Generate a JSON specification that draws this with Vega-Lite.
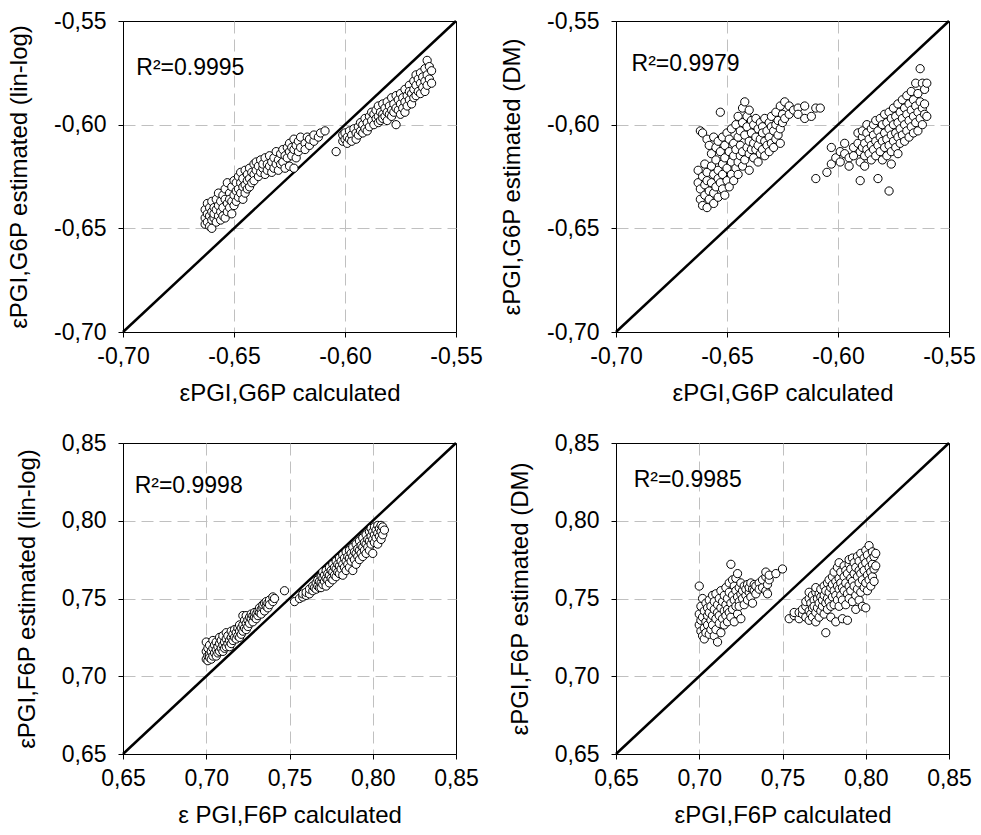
{
"$schema":"https://vega.github.io/schema/vega-lite/v6.json",
"background":"white",
"padding":{"left":7,"top":9,"right":3,"bottom":5},
"config":{
 "font":"Liberation Sans",
 "view":{"stroke":"black","strokeWidth":1},
 "axis":{"domainColor":"black","tickColor":"black","tickSize":5,"labelFontSize":23,"labelColor":"black","labelFont":"Liberation Sans","titleFont":"Liberation Sans","titleFontSize":24,"titleFontWeight":"normal","titleColor":"black","gridColor":"#c0c0c0","gridDash":[12,6],"gridWidth":1,"labelFlush":false,"labelOverlap":false,"gridOpacity":{"condition":{"test":"datum.index == 0 || datum.index == 1","value":0},"value":1}},
 "axisX":{"labelPadding":8,"titlePadding":13},
 "axisY":{"labelPadding":12,"titlePadding":22}
},
"datasets":{
 "dg1":[{"x":-0.70,"y":-0.70},{"x":-0.55,"y":-0.55}],
 "dg2":[{"x":0.65,"y":0.65},{"x":0.85,"y":0.85}],
 "tl":[
{"x":-0.663,"y":-0.641},{"x":-0.663,"y":-0.645},{"x":-0.663,"y":-0.648},{"x":-0.662,"y":-0.643},{"x":-0.662,"y":-0.647},{"x":-0.662,"y":-0.638},{"x":-0.661,"y":-0.644},{"x":-0.661,"y":-0.649},{"x":-0.661,"y":-0.640},{"x":-0.660,"y":-0.637},{"x":-0.660,"y":-0.642},{"x":-0.660,"y":-0.646},{"x":-0.660,"y":-0.650},{"x":-0.659,"y":-0.640},{"x":-0.659,"y":-0.645},{"x":-0.659,"y":-0.643},{"x":-0.658,"y":-0.636},{"x":-0.658,"y":-0.641},{"x":-0.658,"y":-0.647},{"x":-0.657,"y":-0.639},{"x":-0.657,"y":-0.644},{"x":-0.657,"y":-0.633},{"x":-0.656,"y":-0.637},{"x":-0.656,"y":-0.642},{"x":-0.656,"y":-0.646},{"x":-0.655,"y":-0.634},{"x":-0.655,"y":-0.640},{"x":-0.655,"y":-0.644},{"x":-0.654,"y":-0.636},{"x":-0.654,"y":-0.631},{"x":-0.654,"y":-0.645},{"x":-0.653,"y":-0.638},{"x":-0.653,"y":-0.642},{"x":-0.653,"y":-0.628},{"x":-0.652,"y":-0.633},{"x":-0.652,"y":-0.640},{"x":-0.652,"y":-0.636},{"x":-0.651,"y":-0.630},{"x":-0.651,"y":-0.637},{"x":-0.651,"y":-0.643},{"x":-0.650,"y":-0.627},{"x":-0.650,"y":-0.634},{"x":-0.650,"y":-0.639},{"x":-0.649,"y":-0.632},{"x":-0.649,"y":-0.628},{"x":-0.649,"y":-0.637},{"x":-0.648,"y":-0.625},{"x":-0.648,"y":-0.631},{"x":-0.648,"y":-0.635},{"x":-0.647,"y":-0.628},{"x":-0.647,"y":-0.633},{"x":-0.647,"y":-0.623},{"x":-0.646,"y":-0.626},{"x":-0.646,"y":-0.630},{"x":-0.646,"y":-0.636},{"x":-0.645,"y":-0.622},{"x":-0.645,"y":-0.629},{"x":-0.645,"y":-0.633},{"x":-0.644,"y":-0.624},{"x":-0.644,"y":-0.627},{"x":-0.644,"y":-0.631},{"x":-0.643,"y":-0.621},{"x":-0.643,"y":-0.626},{"x":-0.643,"y":-0.630},{"x":-0.642,"y":-0.623},{"x":-0.642,"y":-0.628},{"x":-0.641,"y":-0.619},{"x":-0.641,"y":-0.624},{"x":-0.641,"y":-0.627},{"x":-0.640,"y":-0.622},{"x":-0.640,"y":-0.618},{"x":-0.639,"y":-0.620},{"x":-0.639,"y":-0.625},{"x":-0.638,"y":-0.617},{"x":-0.638,"y":-0.623},{"x":-0.637,"y":-0.621},{"x":-0.637,"y":-0.619},{"x":-0.636,"y":-0.616},{"x":-0.636,"y":-0.624},{"x":-0.635,"y":-0.619},{"x":-0.635,"y":-0.622},{"x":-0.634,"y":-0.615},{"x":-0.634,"y":-0.620},{"x":-0.633,"y":-0.618},{"x":-0.633,"y":-0.623},{"x":-0.632,"y":-0.616},{"x":-0.632,"y":-0.621},{"x":-0.631,"y":-0.613},{"x":-0.631,"y":-0.619},{"x":-0.630,"y":-0.617},{"x":-0.630,"y":-0.622},{"x":-0.629,"y":-0.614},{"x":-0.629,"y":-0.619},{"x":-0.628,"y":-0.612},{"x":-0.628,"y":-0.618},{"x":-0.627,"y":-0.615},{"x":-0.627,"y":-0.621},{"x":-0.626,"y":-0.611},{"x":-0.626,"y":-0.616},{"x":-0.625,"y":-0.613},{"x":-0.625,"y":-0.609},{"x":-0.625,"y":-0.620},{"x":-0.624,"y":-0.615},{"x":-0.624,"y":-0.611},{"x":-0.623,"y":-0.607},{"x":-0.623,"y":-0.612},{"x":-0.623,"y":-0.621},{"x":-0.622,"y":-0.610},{"x":-0.622,"y":-0.616},{"x":-0.621,"y":-0.608},{"x":-0.621,"y":-0.613},{"x":-0.620,"y":-0.611},{"x":-0.620,"y":-0.606},{"x":-0.618,"y":-0.609},{"x":-0.618,"y":-0.612},{"x":-0.617,"y":-0.606},{"x":-0.616,"y":-0.610},{"x":-0.616,"y":-0.607},{"x":-0.614,"y":-0.608},{"x":-0.614,"y":-0.605},{"x":-0.612,"y":-0.606},{"x":-0.611,"y":-0.604},{"x":-0.609,"y":-0.603},
{"x":-0.604,"y":-0.613},{"x":-0.601,"y":-0.608},{"x":-0.601,"y":-0.605},{"x":-0.600,"y":-0.607},{"x":-0.600,"y":-0.604},{"x":-0.599,"y":-0.606},{"x":-0.599,"y":-0.609},{"x":-0.598,"y":-0.603},{"x":-0.598,"y":-0.607},{"x":-0.597,"y":-0.605},{"x":-0.597,"y":-0.608},{"x":-0.596,"y":-0.602},{"x":-0.595,"y":-0.604},{"x":-0.595,"y":-0.607},{"x":-0.594,"y":-0.601},{"x":-0.594,"y":-0.605},{"x":-0.593,"y":-0.603},{"x":-0.593,"y":-0.599},{"x":-0.592,"y":-0.600},{"x":-0.592,"y":-0.604},{"x":-0.591,"y":-0.597},{"x":-0.591,"y":-0.602},{"x":-0.590,"y":-0.599},{"x":-0.590,"y":-0.603},{"x":-0.589,"y":-0.596},{"x":-0.589,"y":-0.601},{"x":-0.588,"y":-0.598},{"x":-0.588,"y":-0.594},{"x":-0.587,"y":-0.600},{"x":-0.587,"y":-0.595},{"x":-0.586,"y":-0.593},{"x":-0.586,"y":-0.597},{"x":-0.585,"y":-0.596},{"x":-0.585,"y":-0.599},{"x":-0.585,"y":-0.591},{"x":-0.584,"y":-0.594},{"x":-0.584,"y":-0.598},{"x":-0.583,"y":-0.590},{"x":-0.583,"y":-0.595},{"x":-0.583,"y":-0.597},{"x":-0.582,"y":-0.592},{"x":-0.582,"y":-0.596},{"x":-0.581,"y":-0.589},{"x":-0.581,"y":-0.594},{"x":-0.581,"y":-0.598},{"x":-0.580,"y":-0.591},{"x":-0.580,"y":-0.595},{"x":-0.579,"y":-0.587},{"x":-0.579,"y":-0.593},{"x":-0.579,"y":-0.596},{"x":-0.578,"y":-0.590},{"x":-0.578,"y":-0.594},{"x":-0.577,"y":-0.586},{"x":-0.577,"y":-0.592},{"x":-0.577,"y":-0.600},{"x":-0.576,"y":-0.588},{"x":-0.576,"y":-0.593},{"x":-0.575,"y":-0.585},{"x":-0.575,"y":-0.590},{"x":-0.575,"y":-0.595},{"x":-0.574,"y":-0.587},{"x":-0.574,"y":-0.592},{"x":-0.573,"y":-0.583},{"x":-0.573,"y":-0.589},{"x":-0.573,"y":-0.594},{"x":-0.572,"y":-0.586},{"x":-0.572,"y":-0.591},{"x":-0.571,"y":-0.581},{"x":-0.571,"y":-0.588},{"x":-0.571,"y":-0.584},{"x":-0.570,"y":-0.585},{"x":-0.570,"y":-0.590},{"x":-0.569,"y":-0.579},{"x":-0.569,"y":-0.583},{"x":-0.569,"y":-0.587},{"x":-0.568,"y":-0.576},{"x":-0.568,"y":-0.581},{"x":-0.568,"y":-0.586},{"x":-0.567,"y":-0.578},{"x":-0.567,"y":-0.584},{"x":-0.566,"y":-0.575},{"x":-0.566,"y":-0.580},{"x":-0.566,"y":-0.585},{"x":-0.565,"y":-0.577},{"x":-0.565,"y":-0.582},{"x":-0.564,"y":-0.573},{"x":-0.564,"y":-0.579},{"x":-0.564,"y":-0.584},{"x":-0.563,"y":-0.569},{"x":-0.563,"y":-0.576},{"x":-0.563,"y":-0.581},{"x":-0.562,"y":-0.572},{"x":-0.562,"y":-0.578},{"x":-0.561,"y":-0.574},{"x":-0.561,"y":-0.580}
 ],
 "tr":[
{"x":-0.663,"y":-0.622},{"x":-0.663,"y":-0.628},{"x":-0.662,"y":-0.603},{"x":-0.662,"y":-0.631},{"x":-0.662,"y":-0.636},{"x":-0.661,"y":-0.625},{"x":-0.661,"y":-0.639},{"x":-0.661,"y":-0.604},{"x":-0.660,"y":-0.619},{"x":-0.660,"y":-0.629},{"x":-0.660,"y":-0.634},{"x":-0.659,"y":-0.607},{"x":-0.659,"y":-0.623},{"x":-0.659,"y":-0.640},{"x":-0.659,"y":-0.627},{"x":-0.658,"y":-0.610},{"x":-0.658,"y":-0.632},{"x":-0.658,"y":-0.636},{"x":-0.657,"y":-0.614},{"x":-0.657,"y":-0.620},{"x":-0.657,"y":-0.628},{"x":-0.656,"y":-0.606},{"x":-0.656,"y":-0.624},{"x":-0.656,"y":-0.633},{"x":-0.656,"y":-0.638},{"x":-0.655,"y":-0.611},{"x":-0.655,"y":-0.617},{"x":-0.655,"y":-0.630},{"x":-0.654,"y":-0.608},{"x":-0.654,"y":-0.622},{"x":-0.654,"y":-0.635},{"x":-0.654,"y":-0.626},{"x":-0.653,"y":-0.594},{"x":-0.653,"y":-0.613},{"x":-0.653,"y":-0.628},{"x":-0.652,"y":-0.606},{"x":-0.652,"y":-0.619},{"x":-0.652,"y":-0.631},{"x":-0.652,"y":-0.624},{"x":-0.651,"y":-0.610},{"x":-0.651,"y":-0.616},{"x":-0.651,"y":-0.634},{"x":-0.650,"y":-0.604},{"x":-0.650,"y":-0.621},{"x":-0.650,"y":-0.627},{"x":-0.649,"y":-0.607},{"x":-0.649,"y":-0.613},{"x":-0.649,"y":-0.630},{"x":-0.648,"y":-0.602},{"x":-0.648,"y":-0.618},{"x":-0.648,"y":-0.624},{"x":-0.647,"y":-0.609},{"x":-0.647,"y":-0.615},{"x":-0.647,"y":-0.627},{"x":-0.646,"y":-0.600},{"x":-0.646,"y":-0.612},{"x":-0.646,"y":-0.621},{"x":-0.645,"y":-0.596},{"x":-0.645,"y":-0.606},{"x":-0.645,"y":-0.618},{"x":-0.645,"y":-0.624},{"x":-0.644,"y":-0.603},{"x":-0.644,"y":-0.610},{"x":-0.644,"y":-0.615},{"x":-0.643,"y":-0.592},{"x":-0.643,"y":-0.599},{"x":-0.643,"y":-0.613},{"x":-0.643,"y":-0.620},{"x":-0.642,"y":-0.589},{"x":-0.642,"y":-0.605},{"x":-0.642,"y":-0.617},{"x":-0.641,"y":-0.596},{"x":-0.641,"y":-0.601},{"x":-0.641,"y":-0.611},{"x":-0.640,"y":-0.593},{"x":-0.640,"y":-0.608},{"x":-0.640,"y":-0.614},{"x":-0.640,"y":-0.622},{"x":-0.639,"y":-0.598},{"x":-0.639,"y":-0.604},{"x":-0.639,"y":-0.612},{"x":-0.638,"y":-0.600},{"x":-0.638,"y":-0.609},{"x":-0.638,"y":-0.616},{"x":-0.637,"y":-0.597},{"x":-0.637,"y":-0.606},{"x":-0.637,"y":-0.612},{"x":-0.636,"y":-0.602},{"x":-0.636,"y":-0.610},{"x":-0.636,"y":-0.618},{"x":-0.635,"y":-0.599},{"x":-0.635,"y":-0.607},{"x":-0.635,"y":-0.614},{"x":-0.634,"y":-0.601},{"x":-0.634,"y":-0.604},{"x":-0.634,"y":-0.612},{"x":-0.633,"y":-0.597},{"x":-0.633,"y":-0.608},{"x":-0.633,"y":-0.615},{"x":-0.632,"y":-0.603},{"x":-0.632,"y":-0.610},{"x":-0.631,"y":-0.599},{"x":-0.631,"y":-0.606},{"x":-0.631,"y":-0.613},{"x":-0.630,"y":-0.596},{"x":-0.630,"y":-0.601},{"x":-0.630,"y":-0.609},{"x":-0.629,"y":-0.603},{"x":-0.629,"y":-0.611},{"x":-0.628,"y":-0.594},{"x":-0.628,"y":-0.600},{"x":-0.628,"y":-0.607},{"x":-0.627,"y":-0.598},{"x":-0.627,"y":-0.605},{"x":-0.626,"y":-0.591},{"x":-0.626,"y":-0.602},{"x":-0.626,"y":-0.609},{"x":-0.625,"y":-0.595},{"x":-0.625,"y":-0.599},{"x":-0.624,"y":-0.589},{"x":-0.624,"y":-0.597},{"x":-0.622,"y":-0.591},{"x":-0.622,"y":-0.595},{"x":-0.620,"y":-0.593},{"x":-0.618,"y":-0.592},{"x":-0.618,"y":-0.595},{"x":-0.615,"y":-0.591},{"x":-0.615,"y":-0.597},{"x":-0.612,"y":-0.596},{"x":-0.610,"y":-0.592},{"x":-0.608,"y":-0.592},
{"x":-0.610,"y":-0.626},{"x":-0.605,"y":-0.623},{"x":-0.603,"y":-0.611},{"x":-0.603,"y":-0.619},{"x":-0.601,"y":-0.616},{"x":-0.599,"y":-0.613},{"x":-0.599,"y":-0.618},{"x":-0.597,"y":-0.614},{"x":-0.597,"y":-0.609},{"x":-0.595,"y":-0.616},{"x":-0.595,"y":-0.620},{"x":-0.593,"y":-0.611},{"x":-0.593,"y":-0.615},{"x":-0.591,"y":-0.604},{"x":-0.591,"y":-0.609},{"x":-0.590,"y":-0.627},{"x":-0.590,"y":-0.613},{"x":-0.590,"y":-0.618},{"x":-0.589,"y":-0.606},{"x":-0.589,"y":-0.611},{"x":-0.589,"y":-0.603},{"x":-0.588,"y":-0.609},{"x":-0.588,"y":-0.615},{"x":-0.588,"y":-0.620},{"x":-0.587,"y":-0.604},{"x":-0.587,"y":-0.600},{"x":-0.587,"y":-0.612},{"x":-0.586,"y":-0.607},{"x":-0.586,"y":-0.614},{"x":-0.585,"y":-0.602},{"x":-0.585,"y":-0.610},{"x":-0.585,"y":-0.617},{"x":-0.584,"y":-0.600},{"x":-0.584,"y":-0.605},{"x":-0.584,"y":-0.612},{"x":-0.583,"y":-0.598},{"x":-0.583,"y":-0.608},{"x":-0.583,"y":-0.615},{"x":-0.582,"y":-0.603},{"x":-0.582,"y":-0.610},{"x":-0.582,"y":-0.626},{"x":-0.581,"y":-0.597},{"x":-0.581,"y":-0.606},{"x":-0.581,"y":-0.613},{"x":-0.580,"y":-0.600},{"x":-0.580,"y":-0.608},{"x":-0.580,"y":-0.617},{"x":-0.579,"y":-0.595},{"x":-0.579,"y":-0.604},{"x":-0.579,"y":-0.611},{"x":-0.578,"y":-0.599},{"x":-0.578,"y":-0.607},{"x":-0.578,"y":-0.615},{"x":-0.577,"y":-0.594},{"x":-0.577,"y":-0.602},{"x":-0.577,"y":-0.610},{"x":-0.577,"y":-0.632},{"x":-0.576,"y":-0.597},{"x":-0.576,"y":-0.605},{"x":-0.576,"y":-0.613},{"x":-0.576,"y":-0.619},{"x":-0.575,"y":-0.592},{"x":-0.575,"y":-0.600},{"x":-0.575,"y":-0.608},{"x":-0.574,"y":-0.596},{"x":-0.574,"y":-0.604},{"x":-0.574,"y":-0.611},{"x":-0.573,"y":-0.590},{"x":-0.573,"y":-0.599},{"x":-0.573,"y":-0.606},{"x":-0.573,"y":-0.614},{"x":-0.572,"y":-0.594},{"x":-0.572,"y":-0.602},{"x":-0.572,"y":-0.609},{"x":-0.571,"y":-0.588},{"x":-0.571,"y":-0.597},{"x":-0.571,"y":-0.605},{"x":-0.570,"y":-0.592},{"x":-0.570,"y":-0.600},{"x":-0.570,"y":-0.608},{"x":-0.569,"y":-0.586},{"x":-0.569,"y":-0.595},{"x":-0.569,"y":-0.603},{"x":-0.568,"y":-0.590},{"x":-0.568,"y":-0.598},{"x":-0.568,"y":-0.606},{"x":-0.567,"y":-0.584},{"x":-0.567,"y":-0.593},{"x":-0.567,"y":-0.601},{"x":-0.566,"y":-0.588},{"x":-0.566,"y":-0.596},{"x":-0.566,"y":-0.604},{"x":-0.565,"y":-0.580},{"x":-0.565,"y":-0.591},{"x":-0.565,"y":-0.599},{"x":-0.564,"y":-0.585},{"x":-0.564,"y":-0.594},{"x":-0.564,"y":-0.603},{"x":-0.563,"y":-0.573},{"x":-0.563,"y":-0.589},{"x":-0.563,"y":-0.597},{"x":-0.562,"y":-0.580},{"x":-0.562,"y":-0.592},{"x":-0.562,"y":-0.600},{"x":-0.561,"y":-0.583},{"x":-0.561,"y":-0.595},{"x":-0.561,"y":-0.590},{"x":-0.560,"y":-0.580},{"x":-0.560,"y":-0.596}
 ],
 "bl":[
{"x":0.700,"y":0.711},{"x":0.700,"y":0.716},{"x":0.700,"y":0.722},{"x":0.701,"y":0.713},{"x":0.701,"y":0.718},{"x":0.701,"y":0.710},{"x":0.702,"y":0.714},{"x":0.702,"y":0.720},{"x":0.702,"y":0.712},{"x":0.703,"y":0.716},{"x":0.703,"y":0.711},{"x":0.704,"y":0.718},{"x":0.704,"y":0.713},{"x":0.704,"y":0.723},{"x":0.705,"y":0.715},{"x":0.705,"y":0.720},{"x":0.706,"y":0.717},{"x":0.706,"y":0.713},{"x":0.706,"y":0.722},{"x":0.707,"y":0.719},{"x":0.707,"y":0.715},{"x":0.708,"y":0.721},{"x":0.708,"y":0.716},{"x":0.708,"y":0.725},{"x":0.709,"y":0.718},{"x":0.709,"y":0.723},{"x":0.710,"y":0.720},{"x":0.710,"y":0.716},{"x":0.710,"y":0.726},{"x":0.711,"y":0.722},{"x":0.711,"y":0.718},{"x":0.712,"y":0.724},{"x":0.712,"y":0.719},{"x":0.712,"y":0.728},{"x":0.713,"y":0.721},{"x":0.713,"y":0.726},{"x":0.714,"y":0.723},{"x":0.714,"y":0.719},{"x":0.715,"y":0.725},{"x":0.715,"y":0.729},{"x":0.715,"y":0.721},{"x":0.716,"y":0.727},{"x":0.716,"y":0.723},{"x":0.717,"y":0.725},{"x":0.717,"y":0.730},{"x":0.718,"y":0.728},{"x":0.718,"y":0.724},{"x":0.719,"y":0.726},{"x":0.719,"y":0.731},{"x":0.720,"y":0.729},{"x":0.720,"y":0.733},{"x":0.720,"y":0.725},{"x":0.721,"y":0.731},{"x":0.721,"y":0.727},{"x":0.722,"y":0.733},{"x":0.722,"y":0.729},{"x":0.722,"y":0.739},{"x":0.723,"y":0.731},{"x":0.723,"y":0.736},{"x":0.724,"y":0.734},{"x":0.724,"y":0.730},{"x":0.724,"y":0.739},{"x":0.725,"y":0.736},{"x":0.725,"y":0.732},{"x":0.726,"y":0.734},{"x":0.726,"y":0.738},{"x":0.727,"y":0.737},{"x":0.727,"y":0.740},{"x":0.728,"y":0.735},{"x":0.728,"y":0.739},{"x":0.729,"y":0.738},{"x":0.729,"y":0.741},{"x":0.730,"y":0.740},{"x":0.730,"y":0.737},{"x":0.731,"y":0.739},{"x":0.731,"y":0.742},{"x":0.732,"y":0.741},{"x":0.732,"y":0.744},{"x":0.733,"y":0.743},{"x":0.733,"y":0.740},{"x":0.734,"y":0.744},{"x":0.734,"y":0.746},{"x":0.735,"y":0.742},{"x":0.735,"y":0.747},{"x":0.736,"y":0.745},{"x":0.736,"y":0.748},{"x":0.737,"y":0.747},{"x":0.737,"y":0.744},{"x":0.738,"y":0.749},{"x":0.738,"y":0.746},{"x":0.740,"y":0.748},{"x":0.740,"y":0.751},{"x":0.741,"y":0.750},{"x":0.747,"y":0.755},
{"x":0.753,"y":0.748},{"x":0.756,"y":0.750},{"x":0.758,"y":0.751},{"x":0.758,"y":0.753},{"x":0.760,"y":0.752},{"x":0.760,"y":0.754},{"x":0.762,"y":0.753},{"x":0.762,"y":0.756},{"x":0.764,"y":0.755},{"x":0.764,"y":0.758},{"x":0.765,"y":0.757},{"x":0.766,"y":0.756},{"x":0.766,"y":0.760},{"x":0.767,"y":0.758},{"x":0.767,"y":0.762},{"x":0.768,"y":0.757},{"x":0.768,"y":0.761},{"x":0.769,"y":0.760},{"x":0.769,"y":0.764},{"x":0.769,"y":0.757},{"x":0.770,"y":0.759},{"x":0.770,"y":0.763},{"x":0.770,"y":0.767},{"x":0.771,"y":0.761},{"x":0.771,"y":0.765},{"x":0.772,"y":0.758},{"x":0.772,"y":0.763},{"x":0.772,"y":0.768},{"x":0.773,"y":0.762},{"x":0.773,"y":0.766},{"x":0.774,"y":0.760},{"x":0.774,"y":0.765},{"x":0.774,"y":0.770},{"x":0.775,"y":0.763},{"x":0.775,"y":0.768},{"x":0.776,"y":0.762},{"x":0.776,"y":0.767},{"x":0.776,"y":0.772},{"x":0.777,"y":0.765},{"x":0.777,"y":0.770},{"x":0.778,"y":0.764},{"x":0.778,"y":0.769},{"x":0.778,"y":0.774},{"x":0.779,"y":0.767},{"x":0.779,"y":0.772},{"x":0.780,"y":0.766},{"x":0.780,"y":0.771},{"x":0.780,"y":0.776},{"x":0.781,"y":0.769},{"x":0.781,"y":0.774},{"x":0.782,"y":0.765},{"x":0.782,"y":0.772},{"x":0.782,"y":0.778},{"x":0.783,"y":0.770},{"x":0.783,"y":0.776},{"x":0.784,"y":0.768},{"x":0.784,"y":0.774},{"x":0.784,"y":0.780},{"x":0.785,"y":0.772},{"x":0.785,"y":0.777},{"x":0.786,"y":0.770},{"x":0.786,"y":0.776},{"x":0.786,"y":0.781},{"x":0.787,"y":0.774},{"x":0.787,"y":0.779},{"x":0.788,"y":0.768},{"x":0.788,"y":0.777},{"x":0.788,"y":0.783},{"x":0.789,"y":0.775},{"x":0.789,"y":0.780},{"x":0.790,"y":0.772},{"x":0.790,"y":0.779},{"x":0.790,"y":0.785},{"x":0.791,"y":0.777},{"x":0.791,"y":0.782},{"x":0.792,"y":0.775},{"x":0.792,"y":0.781},{"x":0.792,"y":0.787},{"x":0.793,"y":0.779},{"x":0.793,"y":0.784},{"x":0.794,"y":0.777},{"x":0.794,"y":0.783},{"x":0.794,"y":0.789},{"x":0.795,"y":0.781},{"x":0.795,"y":0.786},{"x":0.796,"y":0.779},{"x":0.796,"y":0.785},{"x":0.796,"y":0.791},{"x":0.797,"y":0.783},{"x":0.797,"y":0.788},{"x":0.798,"y":0.781},{"x":0.798,"y":0.787},{"x":0.798,"y":0.793},{"x":0.799,"y":0.785},{"x":0.799,"y":0.790},{"x":0.799,"y":0.795},{"x":0.800,"y":0.779},{"x":0.800,"y":0.788},{"x":0.800,"y":0.793},{"x":0.801,"y":0.786},{"x":0.801,"y":0.791},{"x":0.801,"y":0.796},{"x":0.802,"y":0.789},{"x":0.802,"y":0.794},{"x":0.803,"y":0.785},{"x":0.803,"y":0.792},{"x":0.803,"y":0.797},{"x":0.804,"y":0.790},{"x":0.804,"y":0.795},{"x":0.805,"y":0.788},{"x":0.805,"y":0.793},{"x":0.805,"y":0.797},{"x":0.806,"y":0.791},{"x":0.806,"y":0.796},{"x":0.807,"y":0.794}
 ],
 "br":[
{"x":0.700,"y":0.758},{"x":0.700,"y":0.733},{"x":0.700,"y":0.740},{"x":0.701,"y":0.729},{"x":0.701,"y":0.745},{"x":0.701,"y":0.736},{"x":0.702,"y":0.726},{"x":0.702,"y":0.750},{"x":0.702,"y":0.738},{"x":0.703,"y":0.731},{"x":0.703,"y":0.742},{"x":0.703,"y":0.724},{"x":0.704,"y":0.735},{"x":0.704,"y":0.747},{"x":0.704,"y":0.728},{"x":0.705,"y":0.739},{"x":0.705,"y":0.733},{"x":0.705,"y":0.744},{"x":0.706,"y":0.727},{"x":0.706,"y":0.741},{"x":0.706,"y":0.749},{"x":0.707,"y":0.736},{"x":0.707,"y":0.730},{"x":0.707,"y":0.745},{"x":0.708,"y":0.739},{"x":0.708,"y":0.752},{"x":0.708,"y":0.733},{"x":0.709,"y":0.726},{"x":0.709,"y":0.743},{"x":0.709,"y":0.748},{"x":0.710,"y":0.737},{"x":0.710,"y":0.730},{"x":0.710,"y":0.753},{"x":0.711,"y":0.722},{"x":0.711,"y":0.741},{"x":0.711,"y":0.746},{"x":0.712,"y":0.734},{"x":0.712,"y":0.750},{"x":0.712,"y":0.739},{"x":0.713,"y":0.728},{"x":0.713,"y":0.744},{"x":0.713,"y":0.755},{"x":0.714,"y":0.737},{"x":0.714,"y":0.748},{"x":0.715,"y":0.733},{"x":0.715,"y":0.742},{"x":0.715,"y":0.752},{"x":0.716,"y":0.739},{"x":0.716,"y":0.746},{"x":0.716,"y":0.757},{"x":0.717,"y":0.735},{"x":0.717,"y":0.750},{"x":0.717,"y":0.743},{"x":0.718,"y":0.741},{"x":0.718,"y":0.754},{"x":0.718,"y":0.760},{"x":0.719,"y":0.738},{"x":0.719,"y":0.747},{"x":0.719,"y":0.772},{"x":0.720,"y":0.743},{"x":0.720,"y":0.752},{"x":0.720,"y":0.762},{"x":0.721,"y":0.735},{"x":0.721,"y":0.749},{"x":0.721,"y":0.758},{"x":0.722,"y":0.745},{"x":0.722,"y":0.755},{"x":0.722,"y":0.763},{"x":0.723,"y":0.740},{"x":0.723,"y":0.751},{"x":0.723,"y":0.766},{"x":0.724,"y":0.748},{"x":0.724,"y":0.757},{"x":0.724,"y":0.745},{"x":0.725,"y":0.737},{"x":0.725,"y":0.753},{"x":0.725,"y":0.760},{"x":0.726,"y":0.750},{"x":0.726,"y":0.755},{"x":0.727,"y":0.746},{"x":0.727,"y":0.758},{"x":0.728,"y":0.752},{"x":0.728,"y":0.756},{"x":0.729,"y":0.749},{"x":0.729,"y":0.759},{"x":0.730,"y":0.754},{"x":0.730,"y":0.757},{"x":0.731,"y":0.751},{"x":0.731,"y":0.760},{"x":0.732,"y":0.747},{"x":0.732,"y":0.756},{"x":0.733,"y":0.755},{"x":0.733,"y":0.759},{"x":0.734,"y":0.758},{"x":0.734,"y":0.753},{"x":0.736,"y":0.760},{"x":0.736,"y":0.756},{"x":0.738,"y":0.757},{"x":0.738,"y":0.762},{"x":0.740,"y":0.755},{"x":0.740,"y":0.764},{"x":0.740,"y":0.767},{"x":0.741,"y":0.759},{"x":0.741,"y":0.753},{"x":0.742,"y":0.762},{"x":0.742,"y":0.765},{"x":0.746,"y":0.766},{"x":0.750,"y":0.769},
{"x":0.754,"y":0.737},{"x":0.757,"y":0.739},{"x":0.757,"y":0.741},{"x":0.760,"y":0.737},{"x":0.760,"y":0.741},{"x":0.762,"y":0.740},{"x":0.762,"y":0.743},{"x":0.764,"y":0.738},{"x":0.764,"y":0.745},{"x":0.764,"y":0.748},{"x":0.766,"y":0.736},{"x":0.766,"y":0.742},{"x":0.766,"y":0.750},{"x":0.766,"y":0.754},{"x":0.767,"y":0.740},{"x":0.767,"y":0.747},{"x":0.768,"y":0.744},{"x":0.768,"y":0.738},{"x":0.768,"y":0.752},{"x":0.769,"y":0.749},{"x":0.769,"y":0.745},{"x":0.770,"y":0.735},{"x":0.770,"y":0.741},{"x":0.770,"y":0.754},{"x":0.770,"y":0.757},{"x":0.771,"y":0.744},{"x":0.771,"y":0.750},{"x":0.772,"y":0.738},{"x":0.772,"y":0.747},{"x":0.772,"y":0.753},{"x":0.773,"y":0.751},{"x":0.773,"y":0.756},{"x":0.773,"y":0.742},{"x":0.774,"y":0.745},{"x":0.774,"y":0.749},{"x":0.775,"y":0.740},{"x":0.775,"y":0.752},{"x":0.775,"y":0.758},{"x":0.776,"y":0.728},{"x":0.776,"y":0.747},{"x":0.776,"y":0.755},{"x":0.777,"y":0.743},{"x":0.777,"y":0.750},{"x":0.777,"y":0.760},{"x":0.778,"y":0.748},{"x":0.778,"y":0.754},{"x":0.778,"y":0.762},{"x":0.779,"y":0.745},{"x":0.779,"y":0.757},{"x":0.779,"y":0.738},{"x":0.780,"y":0.751},{"x":0.780,"y":0.759},{"x":0.780,"y":0.764},{"x":0.781,"y":0.746},{"x":0.781,"y":0.755},{"x":0.781,"y":0.767},{"x":0.782,"y":0.735},{"x":0.782,"y":0.752},{"x":0.782,"y":0.761},{"x":0.783,"y":0.749},{"x":0.783,"y":0.758},{"x":0.783,"y":0.770},{"x":0.784,"y":0.745},{"x":0.784,"y":0.756},{"x":0.784,"y":0.763},{"x":0.784,"y":0.773},{"x":0.785,"y":0.752},{"x":0.785,"y":0.760},{"x":0.785,"y":0.767},{"x":0.786,"y":0.737},{"x":0.786,"y":0.749},{"x":0.786,"y":0.757},{"x":0.787,"y":0.755},{"x":0.787,"y":0.764},{"x":0.787,"y":0.771},{"x":0.788,"y":0.746},{"x":0.788,"y":0.760},{"x":0.788,"y":0.768},{"x":0.789,"y":0.736},{"x":0.789,"y":0.753},{"x":0.789,"y":0.766},{"x":0.790,"y":0.750},{"x":0.790,"y":0.758},{"x":0.790,"y":0.772},{"x":0.790,"y":0.775},{"x":0.791,"y":0.755},{"x":0.791,"y":0.763},{"x":0.791,"y":0.769},{"x":0.792,"y":0.748},{"x":0.792,"y":0.761},{"x":0.792,"y":0.776},{"x":0.793,"y":0.758},{"x":0.793,"y":0.766},{"x":0.793,"y":0.773},{"x":0.794,"y":0.743},{"x":0.794,"y":0.752},{"x":0.794,"y":0.770},{"x":0.795,"y":0.756},{"x":0.795,"y":0.764},{"x":0.795,"y":0.777},{"x":0.796,"y":0.749},{"x":0.796,"y":0.760},{"x":0.796,"y":0.768},{"x":0.796,"y":0.774},{"x":0.797,"y":0.754},{"x":0.797,"y":0.766},{"x":0.797,"y":0.779},{"x":0.798,"y":0.745},{"x":0.798,"y":0.762},{"x":0.798,"y":0.771},{"x":0.799,"y":0.757},{"x":0.799,"y":0.768},{"x":0.799,"y":0.776},{"x":0.800,"y":0.744},{"x":0.800,"y":0.760},{"x":0.800,"y":0.773},{"x":0.800,"y":0.781},{"x":0.801,"y":0.755},{"x":0.801,"y":0.765},{"x":0.801,"y":0.778},{"x":0.802,"y":0.762},{"x":0.802,"y":0.770},{"x":0.802,"y":0.784},{"x":0.803,"y":0.758},{"x":0.803,"y":0.767},{"x":0.803,"y":0.775},{"x":0.804,"y":0.764},{"x":0.804,"y":0.772},{"x":0.804,"y":0.780},{"x":0.805,"y":0.761},{"x":0.805,"y":0.769},{"x":0.805,"y":0.777},{"x":0.806,"y":0.771},{"x":0.806,"y":0.779}
 ]
},
"columns":2,
"spacing":{"row":111,"column":160},
"bounds":"flush",
"concat":[
 {"width":333,"height":311,
  "layer":[
   {"data":{"name":"dg1"},"mark":{"type":"line","color":"black","strokeWidth":2.5},
    "encoding":{
     "x":{"field":"x","type":"quantitative","scale":{"domain":[-0.70,-0.55],"nice":false,"zero":false},"axis":{"values":[-0.70,-0.65,-0.60,-0.55],"title":"εPGI,G6P calculated","labelExpr":"replace(replace(format(datum.value,'.2f'),'.',','),'\u2212','-')"}},
     "y":{"field":"y","type":"quantitative","scale":{"domain":[-0.70,-0.55],"nice":false,"zero":false},"axis":{"values":[-0.70,-0.65,-0.60,-0.55],"title":"εPGI,G6P estimated (lin-log)","labelExpr":"replace(replace(format(datum.value,'.2f'),'.',','),'\u2212','-')"}}}},
   {"data":{"name":"tl"},"mark":{"type":"circle","fill":"white","stroke":"black","strokeWidth":1,"size":68,"opacity":1},
    "encoding":{"x":{"field":"x","type":"quantitative"},"y":{"field":"y","type":"quantitative"}}},
   {"data":{"values":[{"label":"R²=0.9995"}]},"mark":{"type":"text","align":"left","baseline":"alphabetic","fontSize":23,"font":"Liberation Sans","color":"black"},
    "encoding":{"x":{"datum":-0.694,"type":"quantitative"},"y":{"datum":-0.576,"type":"quantitative"},"text":{"field":"label"}}}
  ]},
 {"width":333,"height":311,
  "layer":[
   {"data":{"name":"dg1"},"mark":{"type":"line","color":"black","strokeWidth":2.5},
    "encoding":{
     "x":{"field":"x","type":"quantitative","scale":{"domain":[-0.70,-0.55],"nice":false,"zero":false},"axis":{"values":[-0.70,-0.65,-0.60,-0.55],"title":"εPGI,G6P calculated","labelExpr":"replace(replace(format(datum.value,'.2f'),'.',','),'\u2212','-')"}},
     "y":{"field":"y","type":"quantitative","scale":{"domain":[-0.70,-0.55],"nice":false,"zero":false},"axis":{"values":[-0.70,-0.65,-0.60,-0.55],"title":"εPGI,G6P estimated (DM)","labelExpr":"replace(replace(format(datum.value,'.2f'),'.',','),'\u2212','-')"}}}},
   {"data":{"name":"tr"},"mark":{"type":"circle","fill":"white","stroke":"black","strokeWidth":1,"size":68,"opacity":1},
    "encoding":{"x":{"field":"x","type":"quantitative"},"y":{"field":"y","type":"quantitative"}}},
   {"data":{"values":[{"label":"R²=0.9979"}]},"mark":{"type":"text","align":"left","baseline":"alphabetic","fontSize":23,"font":"Liberation Sans","color":"black"},
    "encoding":{"x":{"datum":-0.693,"type":"quantitative"},"y":{"datum":-0.574,"type":"quantitative"},"text":{"field":"label"}}}
  ]},
 {"width":333,"height":311,
  "layer":[
   {"data":{"name":"dg2"},"mark":{"type":"line","color":"black","strokeWidth":2.5},
    "encoding":{
     "x":{"field":"x","type":"quantitative","scale":{"domain":[0.65,0.85],"nice":false,"zero":false},"axis":{"values":[0.65,0.70,0.75,0.80,0.85],"title":"ε PGI,F6P calculated","labelExpr":"replace(format(datum.value,'.2f'),'.',',')"}},
     "y":{"field":"y","type":"quantitative","scale":{"domain":[0.65,0.85],"nice":false,"zero":false},"axis":{"values":[0.65,0.70,0.75,0.80,0.85],"title":"εPGI,F6P estimated (lin-log)","labelExpr":"replace(format(datum.value,'.2f'),'.',',')"}}}},
   {"data":{"name":"bl"},"mark":{"type":"circle","fill":"white","stroke":"black","strokeWidth":1,"size":68,"opacity":1},
    "encoding":{"x":{"field":"x","type":"quantitative"},"y":{"field":"y","type":"quantitative"}}},
   {"data":{"values":[{"label":"R²=0.9998"}]},"mark":{"type":"text","align":"left","baseline":"alphabetic","fontSize":23,"font":"Liberation Sans","color":"black"},
    "encoding":{"x":{"datum":0.657,"type":"quantitative"},"y":{"datum":0.818,"type":"quantitative"},"text":{"field":"label"}}}
  ]},
 {"width":333,"height":311,
  "layer":[
   {"data":{"name":"dg2"},"mark":{"type":"line","color":"black","strokeWidth":2.5},
    "encoding":{
     "x":{"field":"x","type":"quantitative","scale":{"domain":[0.65,0.85],"nice":false,"zero":false},"axis":{"values":[0.65,0.70,0.75,0.80,0.85],"title":"εPGI,F6P calculated","labelExpr":"replace(format(datum.value,'.2f'),'.',',')"}},
     "y":{"field":"y","type":"quantitative","scale":{"domain":[0.65,0.85],"nice":false,"zero":false},"axis":{"values":[0.65,0.70,0.75,0.80,0.85],"title":"εPGI,F6P estimated (DM)","labelExpr":"replace(format(datum.value,'.2f'),'.',',')"}}}},
   {"data":{"name":"br"},"mark":{"type":"circle","fill":"white","stroke":"black","strokeWidth":1,"size":68,"opacity":1},
    "encoding":{"x":{"field":"x","type":"quantitative"},"y":{"field":"y","type":"quantitative"}}},
   {"data":{"values":[{"label":"R²=0.9985"}]},"mark":{"type":"text","align":"left","baseline":"alphabetic","fontSize":23,"font":"Liberation Sans","color":"black"},
    "encoding":{"x":{"datum":0.6606,"type":"quantitative"},"y":{"datum":0.822,"type":"quantitative"},"text":{"field":"label"}}}
  ]}
]
}
